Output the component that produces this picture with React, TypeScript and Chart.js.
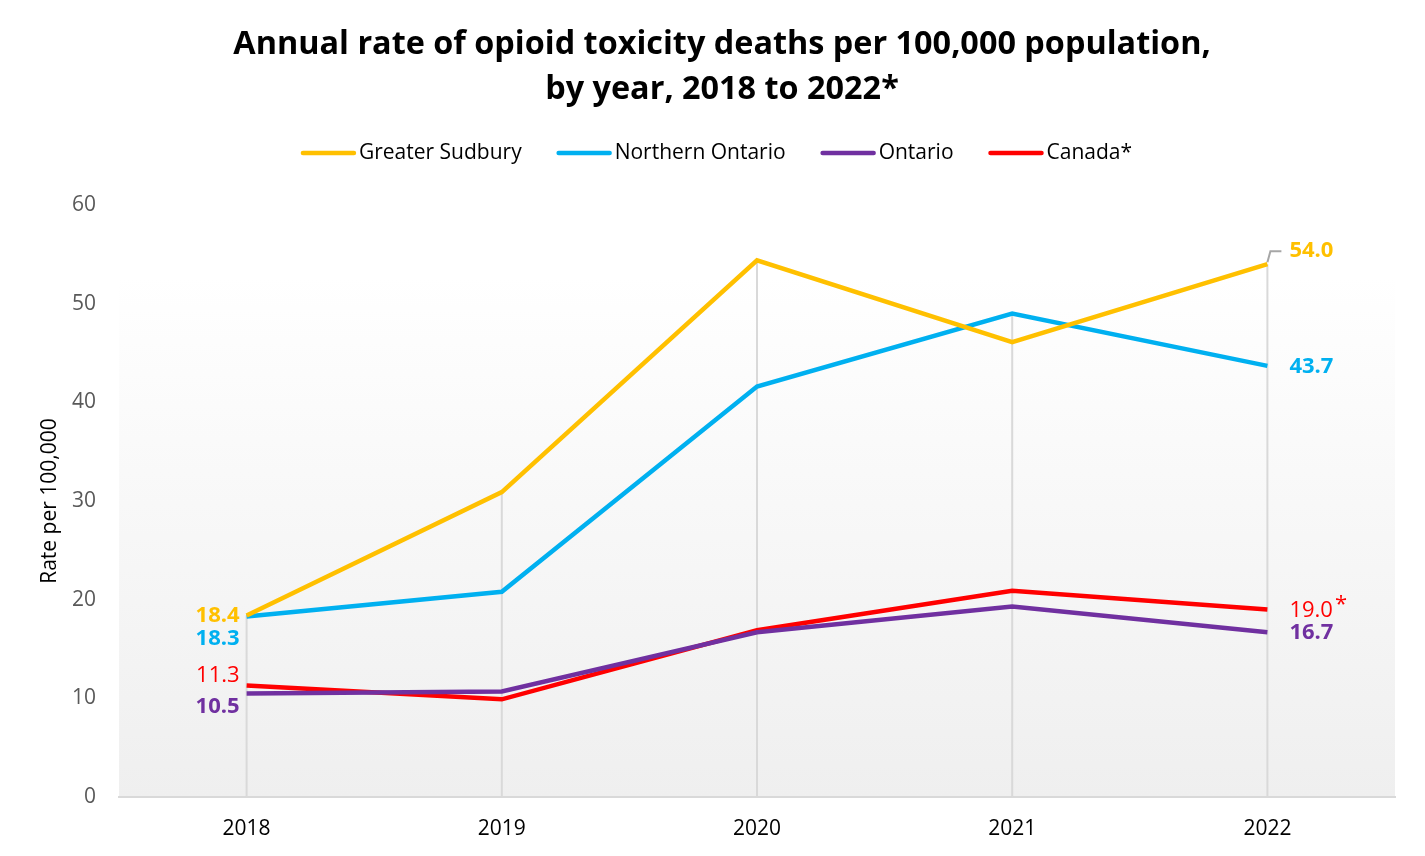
import React, { useEffect, useRef } from "react";
import { Chart, registerables } from "chart.js";

Chart.register(...registerables);

const years = ["2018", "2019", "2020", "2021", "2022"];
const greaterSudbury = [18.4, 30.9, 54.4, 46.1, 54.0];
const northernOntario = [18.3, 20.8, 41.6, 49.0, 43.7];
const ontario = [10.5, 10.7, 16.7, 19.3, 16.7];
const canada = [11.3, 9.9, 16.9, 20.9, 19.0];
const seriesNames = ["Greater Sudbury", "Northern Ontario", "Ontario", "Canada*"];
const seriesColors = ["#FFC000", "#00B0F0", "#7030A0", "#FF0000"];
const yTicks = [0, 10, 20, 30, 40, 50, 60];
const yAxisTitle = "Rate per 100,000";
const titleLines = [
  "Annual rate of opioid toxicity deaths per 100,000 population,",
  "by year, 2018 to 2022*",
];

// label styling (not data)
const labelStyles = [
  { bold: true, leftDy: 0, rightDy: -13, leader: true, suffix: "" },
  { bold: true, leftDy: 22, rightDy: 1, leader: false, suffix: "" },
  { bold: true, leftDy: 13, rightDy: 1, leader: false, suffix: "" },
  { bold: false, leftDy: -10, rightDy: 1, leader: false, suffix: "*" },
];

const FONT = "'Open Sans', 'DejaVu Sans', sans-serif";

const backgroundPlugin = {
  id: "plotBg",
  beforeDraw(chart: any) {
    const { ctx, chartArea } = chart;
    if (!chartArea) return;
    ctx.save();
    const g = ctx.createLinearGradient(0, chartArea.top, 0, chartArea.bottom);
    g.addColorStop(0, "#ffffff");
    g.addColorStop(0.12, "#ffffff");
    g.addColorStop(1, "#efefef");
    ctx.fillStyle = g;
    ctx.fillRect(chartArea.left, chartArea.top, chartArea.right - chartArea.left, chartArea.bottom - chartArea.top);
    ctx.restore();
  },
};

const yTitlePlugin = {
  id: "yTitle",
  afterDraw(chart: any) {
    const { ctx, chartArea } = chart;
    ctx.save();
    ctx.translate(50, (chartArea.top + chartArea.bottom) / 2);
    ctx.rotate(-Math.PI / 2);
    ctx.font = `21px ${FONT}`;
    ctx.fillStyle = "#000000";
    ctx.textAlign = "center";
    ctx.textBaseline = "middle";
    ctx.fillText(yAxisTitle, 0, 0);
    ctx.restore();
  },
};

const dropLinePlugin = {
  id: "dropLines",
  beforeDatasetsDraw(chart: any) {
    const { ctx, chartArea } = chart;
    const n = chart.data.labels.length;
    ctx.save();
    ctx.strokeStyle = "#d9d9d9";
    ctx.lineWidth = 2;
    for (let j = 0; j < n; j++) {
      let minY = Infinity;
      let x = 0;
      chart.data.datasets.forEach((_: any, i: number) => {
        const el = chart.getDatasetMeta(i).data[j];
        if (el && el.y < minY) {
          minY = el.y;
          x = el.x;
        }
      });
      ctx.beginPath();
      ctx.moveTo(x, minY);
      ctx.lineTo(x, chartArea.bottom);
      ctx.stroke();
    }
    ctx.restore();
  },
};

const legendPlugin = {
  id: "customLegend",
  afterDraw(chart: any) {
    const { ctx, width } = chart;
    const lineW = 55;
    const gapText = 3;
    const gapItem = 35;
    const y = 153;
    ctx.save();
    ctx.font = `21px ${FONT}`;
    const items = chart.data.datasets.map((ds: any) => ({
      label: ds.label,
      color: ds.borderColor,
      w: ctx.measureText(ds.label).width,
    }));
    const total = items.reduce((s: number, it: any) => s + lineW + gapText + it.w, 0) + gapItem * (items.length - 1);
    let x = width / 2 - total / 2 + 4;
    ctx.textBaseline = "middle";
    ctx.textAlign = "left";
    items.forEach((it: any) => {
      ctx.strokeStyle = it.color;
      ctx.lineWidth = 4.5;
      ctx.lineCap = "round";
      ctx.beginPath();
      ctx.moveTo(x + 2, y);
      ctx.lineTo(x + lineW - 2, y);
      ctx.stroke();
      ctx.fillStyle = "#000000";
      ctx.fillText(it.label, x + lineW + gapText, y);
      x += lineW + gapText + it.w + gapItem;
    });
    ctx.restore();
  },
};

const labelPlugin = {
  id: "valueLabels",
  afterDatasetsDraw(chart: any) {
    const { ctx } = chart;
    chart.data.datasets.forEach((ds: any, i: number) => {
      const meta = chart.getDatasetMeta(i);
      const st = labelStyles[i];
      const n = ds.data.length;
      const p0 = meta.data[0];
      const pn = meta.data[n - 1];
      ctx.save();
      ctx.font = `${st.bold ? "bold " : ""}22px ${FONT}`;
      ctx.fillStyle = ds.borderColor;
      ctx.textBaseline = "middle";
      ctx.textAlign = "right";
      ctx.fillText(ds.data[0].toFixed(1), p0.x - 7, p0.y + st.leftDy);
      ctx.textAlign = "left";
      const txt = ds.data[n - 1].toFixed(1);
      const tx = pn.x + 22;
      const ty = pn.y + st.rightDy;
      ctx.fillText(txt, tx, ty);
      if (st.suffix) {
        const w = ctx.measureText(txt).width;
        ctx.fillText(st.suffix, tx + w + 2, ty - 6);
      }
      if (st.leader) {
        ctx.strokeStyle = "#a6a6a6";
        ctx.lineWidth = 2;
        ctx.beginPath();
        ctx.moveTo(pn.x, pn.y - 2);
        ctx.lineTo(pn.x + 3, ty);
        ctx.lineTo(pn.x + 14, ty);
        ctx.stroke();
      }
      ctx.restore();
    });
  },
};

export default function App() {
  const canvasRef = useRef<HTMLCanvasElement | null>(null);

  useEffect(() => {
    if (!canvasRef.current) return;
    const seriesValues = [greaterSudbury, northernOntario, ontario, canada];
    const chart = new Chart(canvasRef.current, {
      type: "line",
      data: {
        labels: years,
        datasets: seriesValues.map((vals, i) => ({
          label: seriesNames[i],
          data: vals,
          borderColor: seriesColors[i],
          backgroundColor: seriesColors[i],
          borderWidth: 4.5,
          pointRadius: 0,
          pointHoverRadius: 0,
          tension: 0,
          fill: false,
        })),
      },
      options: {
        responsive: false,
        animation: false,
        devicePixelRatio: 1,
        layout: { padding: { left: 49, right: 30, top: 0, bottom: -5 } },
        plugins: {
          legend: { display: false },
          tooltip: { enabled: false },
          title: {
            display: true,
            text: titleLines,
            color: "#000000",
            font: { family: FONT, size: 32.4, weight: "bold", lineHeight: 1.389 },
            padding: { top: 22.5, bottom: 92.5 },
          },
        },
        scales: {
          x: {
            offset: true,
            grid: { display: false, drawTicks: false },
            border: { display: true, color: "#d9d9d9", width: 2 },
            ticks: { color: "#000000", padding: 19.4, font: { family: FONT, size: 21 } },
          },
          y: {
            min: 0,
            max: 60,
            afterBuildTicks: (scale: any) => {
              scale.ticks = yTicks.map((v) => ({ value: v }));
            },
            grid: { display: false, drawTicks: false },
            border: { display: false },
            ticks: { color: "#595959", padding: 23, font: { family: FONT, size: 21 } },
          },
        },
      },
      plugins: [backgroundPlugin, dropLinePlugin, labelPlugin, legendPlugin, yTitlePlugin],
    });
    return () => chart.destroy();
  }, []);

  return (
    <div style={{ position: "fixed", left: 0, top: 0, width: 1425, height: 856, background: "#ffffff" }}>
      <canvas ref={canvasRef} width={1425} height={856} />
    </div>
  );
}
